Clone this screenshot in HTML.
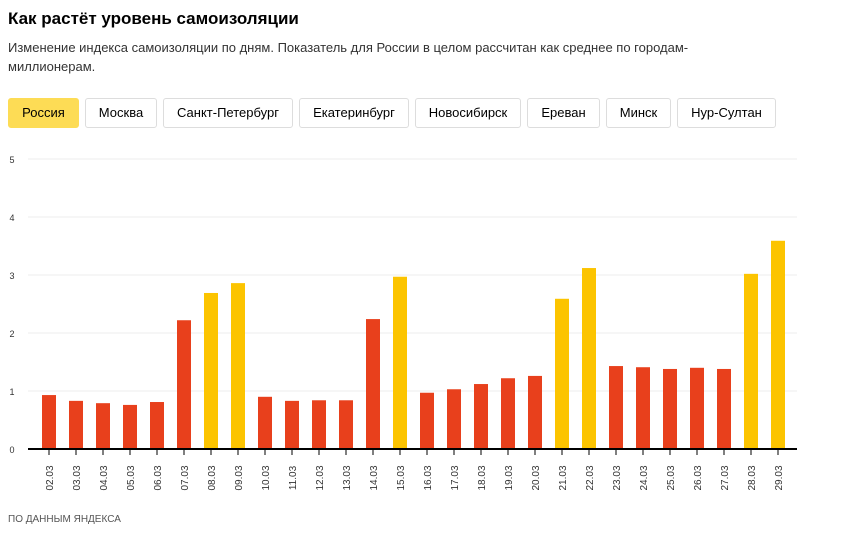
<!DOCTYPE html>
<html><head><meta charset="utf-8"><style>
body{margin:0;width:853px;height:554px;background:#fff;font-family:"Liberation Sans",sans-serif;position:relative;overflow:hidden}
h1{position:absolute;left:8px;top:9px;margin:0;font-size:17px;font-weight:bold;color:#000}
.sub{position:absolute;left:8px;top:38px;width:720px;font-size:13px;line-height:19px;color:#333}
.btn{position:absolute;top:98px;height:30px;border:1px solid #ddd;border-radius:3px;box-sizing:border-box;font-size:13px;line-height:28px;text-align:center;color:#000;background:#fff}
.btn.on{background:#fddc55;border-color:#fddc55}
.src{position:absolute;left:8px;top:514px;font-size:10px;color:#555}
svg{position:absolute;left:0;top:0}
</style></head><body>
<h1>Как растёт уровень самоизоляции</h1>
<div class="sub">Изменение индекса самоизоляции по дням. Показатель для России в целом рассчитан как среднее по городам-миллионерам.</div>
<div class="btn on" style="left:8px;width:71px">Россия</div>
<div class="btn" style="left:85px;width:72px">Москва</div>
<div class="btn" style="left:163px;width:130px">Санкт-Петербург</div>
<div class="btn" style="left:299px;width:110px">Екатеринбург</div>
<div class="btn" style="left:415px;width:106px">Новосибирск</div>
<div class="btn" style="left:527px;width:73px">Ереван</div>
<div class="btn" style="left:606px;width:65px">Минск</div>
<div class="btn" style="left:677px;width:99px">Нур-Султан</div>
<svg id="c" width="853" height="554"></svg>
<div class="src">ПО ДАННЫМ ЯНДЕКСА</div>
<script>
const categories=["02.03","03.03","04.03","05.03","06.03","07.03","08.03","09.03","10.03","11.03","12.03","13.03","14.03","15.03","16.03","17.03","18.03","19.03","20.03","21.03","22.03","23.03","24.03","25.03","26.03","27.03","28.03","29.03"];
const values=[0.93,0.83,0.79,0.76,0.81,2.22,2.69,2.86,0.90,0.83,0.84,0.84,2.24,2.97,0.97,1.03,1.12,1.22,1.26,2.59,3.12,1.43,1.41,1.38,1.40,1.38,3.02,3.59];
const weekend=[0,0,0,0,0,0,1,1,0,0,0,0,0,1,0,0,0,0,0,1,1,0,0,0,0,0,1,1];
const yTicks=[0,1,2,3,4,5];
const ns="http://www.w3.org/2000/svg",svg=document.getElementById('c');
const y=v=>449-v*58, x=i=>49+i*27;
function mk(t,a){const e=document.createElementNS(ns,t);for(const k in a)e.setAttribute(k,a[k]);svg.appendChild(e);return e;}
yTicks.forEach(t=>{
 if(t>0){const g=mk('line',{x1:28,x2:797,y1:y(t),y2:y(t),stroke:'#eee'});
 
 }
 const l=mk('text',{x:12,y:y(t)+4,'font-size':9,fill:'#333','text-anchor':'middle'});l.textContent=t;
 
 
});
values.forEach((v,i)=>{
 const b=mk('rect',{x:x(i)-7,y:y(v),width:14,height:449-y(v),fill:weekend[i]?'#fcc400':'#e8401c'});
 
 
 const tk=mk('line',{x1:x(i),x2:x(i),y1:449,y2:455,stroke:'#000'});
 
 
 const l=mk('text',{x:0,y:0,'font-size':10,fill:'#333','text-anchor':'middle',transform:`translate(${x(i)+4},478) rotate(-90)`});
 l.textContent=categories[i];
 
 
});
const ax=mk('line',{x1:28,x2:797,y1:449,y2:449,stroke:'#000','stroke-width':2});


</script>
</body></html>
